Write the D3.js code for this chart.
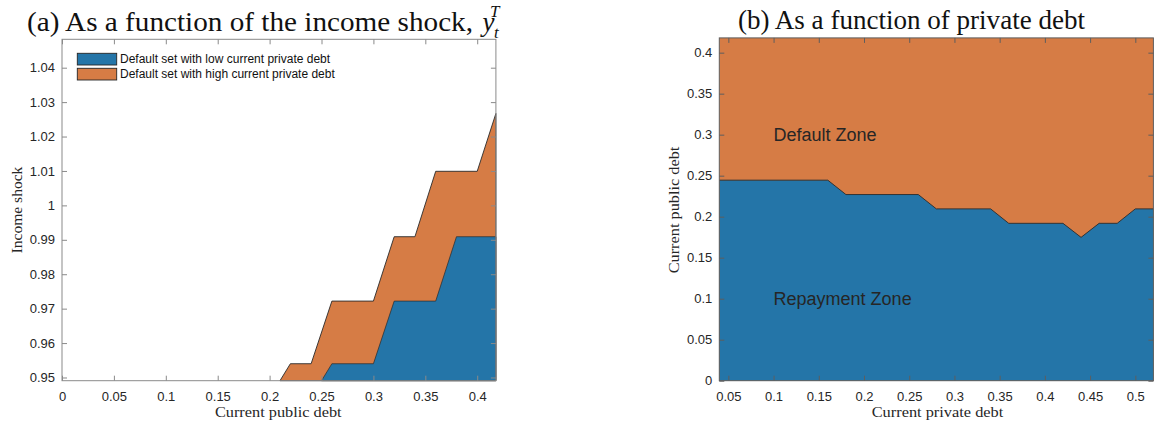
<!DOCTYPE html>
<html>
<head>
<meta charset="utf-8">
<script src="https://cdn.jsdelivr.net/npm/d3@7/dist/d3.min.js"></script>
<style>
  html, body { margin: 0; padding: 0; background: #fff; }
  svg { display: block; }
  .tick text { font-family: "Liberation Sans", Arial, sans-serif; font-size: 13px; fill: #262626; }
  .lbl { font-family: "Liberation Serif", "Times New Roman", serif; fill: #262626; }
  .ttl { font-family: "Liberation Serif", "Times New Roman", serif; fill: #111; }
</style>
</head>
<body>
<svg id="chart" width="1154" height="426"></svg>
<script>
// ---- Panel (a): default sets over public debt and income shock ----
const incomeFloor = 0.94907;
const highDebtX = [0.21, 0.22, 0.24, 0.26, 0.30, 0.32, 0.34, 0.36, 0.40, 0.418];
const highDebtY = [incomeFloor, 0.954, 0.954, 0.9722, 0.9722, 0.9909, 0.9909, 1.0099, 1.0099, 1.0267];
const lowDebtX  = [0.25, 0.26, 0.30, 0.32, 0.36, 0.38, 0.418];
const lowDebtY  = [incomeFloor, 0.954, 0.954, 0.9722, 0.9722, 0.9909, 0.9909];
const ticksAX = [0, 0.05, 0.1, 0.15, 0.2, 0.25, 0.3, 0.35, 0.4];
const ticksAY = [0.95, 0.96, 0.97, 0.98, 0.99, 1, 1.01, 1.02, 1.03, 1.04];
const legendLabels = ["Default set with low current private debt", "Default set with high current private debt"];

// ---- Panel (b): default threshold over private debt ----
const privateDebt = [0.04, 0.16, 0.18, 0.26, 0.28, 0.34, 0.36, 0.42, 0.44, 0.46, 0.48, 0.50, 0.52];
const publicThreshold = [0.2445, 0.2445, 0.2270, 0.2270, 0.2095, 0.2095, 0.1919, 0.1919, 0.1748, 0.1919, 0.1919, 0.2095, 0.2095];
const ticksBX = [0.05, 0.1, 0.15, 0.2, 0.25, 0.3, 0.35, 0.4, 0.45, 0.5];
const ticksBY = [0, 0.05, 0.1, 0.15, 0.2, 0.25, 0.3, 0.35, 0.4];

const BLUE = "#2475a8";
const ORANGE = "#d67c45";
const fmt = d => String(+d.toFixed(3));

const svg = d3.select("#chart");

// Draw boxed axes with inward ticks on all four sides
function frame(g, x, y, tx, ty, color) {
  g.append("g").attr("transform", `translate(0,${y.range()[0]})`)
    .call(d3.axisBottom(x).tickValues(tx).tickFormat(fmt).tickSize(-5).tickPadding(11))
    .call(a => a.select(".domain").remove())
    .call(a => a.selectAll(".tick line").attr("stroke", color));
  g.append("g").attr("transform", `translate(0,${y.range()[1]})`)
    .call(d3.axisTop(x).tickValues(tx).tickFormat("").tickSize(-5))
    .call(a => a.select(".domain").remove())
    .call(a => a.selectAll(".tick line").attr("stroke", color));
  g.append("g").attr("transform", `translate(${x.range()[0]},0)`)
    .call(d3.axisLeft(y).tickValues(ty).tickFormat(fmt).tickSize(-5).tickPadding(7))
    .call(a => a.select(".domain").remove())
    .call(a => a.selectAll(".tick line").attr("stroke", color));
  g.append("g").attr("transform", `translate(${x.range()[1]},0)`)
    .call(d3.axisRight(y).tickValues(ty).tickFormat("").tickSize(-5))
    .call(a => a.select(".domain").remove())
    .call(a => a.selectAll(".tick line").attr("stroke", color));
  g.append("rect")
    .attr("x", x.range()[0]).attr("y", y.range()[1])
    .attr("width", x.range()[1] - x.range()[0])
    .attr("height", y.range()[0] - y.range()[1])
    .attr("fill", "none").attr("stroke", color).attr("stroke-width", 1);
}

// ================= Panel (a) =================
const xA = d3.scaleLinear([0, 0.418], [62, 495.9]);
const yA = d3.scaleLinear([incomeFloor, 1.04825], [380.7, 39.3]);
const gA = svg.append("g");

const poly = (xs, ys) => {
  const pts = xs.map((v, i) => [xA(v), yA(ys[i])]);
  pts.push([xA(xs[xs.length - 1]), yA(incomeFloor)]);
  return d3.line()(pts) + "Z";
};
gA.append("path").attr("d", poly(highDebtX, highDebtY))
  .attr("fill", ORANGE).attr("stroke", "#2a2a2a").attr("stroke-width", 0.9);
gA.append("path").attr("d", poly(lowDebtX, lowDebtY))
  .attr("fill", BLUE).attr("stroke", "#2a2a2a").attr("stroke-width", 0.7);

frame(gA, xA, yA, ticksAX, ticksAY, "#8a8a8a");

// legend
const leg = gA.append("g");
[BLUE, ORANGE].forEach((c, i) => {
  leg.append("rect").attr("x", 77.3).attr("y", 53.3 + i * 15)
    .attr("width", 39.4).attr("height", 11.7)
    .attr("fill", c).attr("stroke", "#262626").attr("stroke-width", 0.9);
  leg.append("text").attr("x", 120).attr("y", 63.4 + i * 15)
    .attr("font-family", "'Liberation Sans', Arial, sans-serif")
    .attr("font-size", 12).attr("fill", "#111")
    .text(legendLabels[i]);
});

// axis labels
gA.append("text").attr("class", "lbl").attr("x", 278.3).attr("y", 417)
  .attr("text-anchor", "middle").attr("font-size", 14)
  .attr("textLength", 126.7).attr("lengthAdjust", "spacingAndGlyphs")
  .text("Current public debt");
gA.append("text").attr("class", "lbl")
  .attr("transform", "translate(22,210) rotate(-90)")
  .attr("text-anchor", "middle").attr("font-size", 15)
  .attr("textLength", 86.7).attr("lengthAdjust", "spacingAndGlyphs")
  .text("Income shock");

// title with math y_t^T
const tA = gA.append("text").attr("class", "ttl").attr("x", 27).attr("y", 31).attr("font-size", 27);
tA.append("tspan").attr("textLength", 446).attr("lengthAdjust", "spacingAndGlyphs")
  .text("(a) As a function of the income shock,");
tA.append("tspan").attr("x", 482.5).attr("font-style", "italic").text("y");
tA.append("tspan").attr("x", 494).attr("dy", 7).attr("font-style", "italic").attr("font-size", 17).text("t");
tA.append("tspan").attr("x", 490).attr("dy", -21).attr("font-style", "italic").attr("font-size", 17).text("T");

// ================= Panel (b) =================
const xB = d3.scaleLinear([0.04, 0.52], [719.3, 1153.4]);
const yB = d3.scaleLinear([0, 0.418], [380.7, 37.9]);
const gB = svg.append("g");

gB.append("rect")
  .attr("x", xB.range()[0]).attr("y", yB.range()[1])
  .attr("width", xB.range()[1] - xB.range()[0])
  .attr("height", yB.range()[0] - yB.range()[1])
  .attr("fill", ORANGE);

const boundary = privateDebt.map((v, i) => [v, publicThreshold[i]]);
gB.append("path").datum(boundary)
  .attr("d", d3.area().x(d => xB(d[0])).y0(yB(0)).y1(d => yB(d[1])))
  .attr("fill", BLUE);
gB.append("path").datum(boundary)
  .attr("d", d3.line().x(d => xB(d[0])).y(d => yB(d[1])))
  .attr("fill", "none").attr("stroke", "#333").attr("stroke-width", 1);

frame(gB, xB, yB, ticksBX, ticksBY, "#5e5e5e");

// zone annotations
[["Default Zone", 0.3], ["Repayment Zone", 0.1]].forEach(([t, v]) => {
  gB.append("text").attr("x", xB(0.1)).attr("y", yB(v)).attr("dy", "0.36em")
    .attr("font-family", "'Liberation Sans', Arial, sans-serif")
    .attr("font-size", 18).attr("fill", "#262626").text(t);
});

gB.append("text").attr("class", "lbl").attr("x", 937.5).attr("y", 417)
  .attr("text-anchor", "middle").attr("font-size", 14)
  .attr("textLength", 131.6).attr("lengthAdjust", "spacingAndGlyphs")
  .text("Current private debt");
gB.append("text").attr("class", "lbl")
  .attr("transform", "translate(679,210) rotate(-90)")
  .attr("text-anchor", "middle").attr("font-size", 15)
  .attr("textLength", 126.7).attr("lengthAdjust", "spacingAndGlyphs")
  .text("Current public debt");

gB.append("text").attr("class", "ttl").attr("x", 738).attr("y", 28.5).attr("font-size", 27)
  .attr("textLength", 347).attr("lengthAdjust", "spacingAndGlyphs")
  .text("(b) As a function of private debt");
</script>
</body>
</html>
